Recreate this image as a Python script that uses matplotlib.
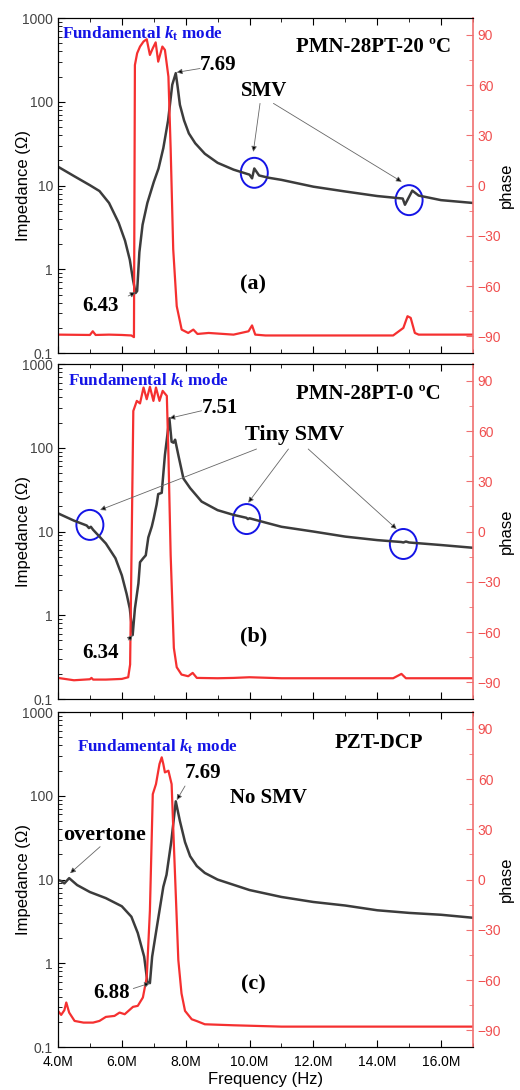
import numpy as np
import matplotlib
matplotlib.use('Agg')
import matplotlib.pyplot as plt
from matplotlib.patches import Ellipse
from matplotlib.transforms import ScaledTranslation
from matplotlib.ticker import MultipleLocator, LogLocator, FuncFormatter, NullFormatter

plt.rcParams['font.family'] = ['Liberation Sans', 'DejaVu Sans']
plt.rcParams['mathtext.fontset'] = 'custom'
plt.rcParams['mathtext.rm'] = 'Liberation Serif:bold'
plt.rcParams['mathtext.it'] = 'Liberation Serif:bold:italic'
plt.rcParams['mathtext.bf'] = 'Liberation Serif:bold'

# ---- data (frequency in MHz, impedance in ohm, phase in degrees) ----
# (a) PMN-28PT-20C
fa_imp = [4.0, 4.5, 5.0, 5.3, 5.6, 5.9, 6.1, 6.25, 6.35, 6.43, 6.48, 6.55, 6.65, 6.8, 7.0,
          7.15, 7.3, 7.45, 7.58, 7.69, 7.75, 7.82, 7.95, 8.1, 8.3, 8.6, 9.0, 9.5, 10.0, 10.08,
          10.15, 10.3, 10.6, 11.0, 12.0, 13.0, 14.0, 14.8, 14.87, 15.1, 15.3, 16.0, 17.0]
za_imp = [16.8, 13.0, 10.1, 8.6, 6.2, 3.6, 2.2, 1.3, 0.75, 0.52, 0.55, 1.6, 3.4, 6.2, 11.0,
          16, 28, 60, 160, 220, 150, 92, 60, 42, 32, 24, 18.7, 15.5, 13.5, 12.2,
          16.0, 13.2, 12.4, 11.7, 9.7, 8.5, 7.5, 7.0, 5.9, 8.7, 7.6, 6.7, 6.2]
fa_ph = [4.0, 5.0, 5.09, 5.18, 5.6, 6.0, 6.3, 6.38, 6.41, 6.48, 6.57, 6.68, 6.78, 6.88, 6.97,
         7.06, 7.14, 7.27, 7.35, 7.46, 7.53, 7.61, 7.72, 7.875, 8.08, 8.24, 8.37, 8.72, 9.5,
         9.97, 10.08, 10.18, 10.5, 12.0, 14.5, 14.82, 14.95, 15.05, 15.18, 15.3, 16.0, 17.0]
pa_ph = [-89, -89.2, -87, -89.2, -89, -89.2, -89.5, -90.5, 72, 79, 83, 86, 87.4, 78, 82,
         85.5, 74, 83, 81, 65, 22, -38, -72, -86, -88, -86, -88.6, -88, -89,
         -87, -83.5, -89, -89.5, -89.5, -89.5, -85, -78, -79, -88, -89, -89, -89]

# (b) PMN-28PT-0C
fb_imp = [4.0, 4.5, 4.9, 4.97, 5.03, 5.1, 5.5, 5.8, 6.0, 6.15, 6.25, 6.34, 6.41, 6.52, 6.57,
          6.67, 6.75, 6.83, 6.94, 7.0, 7.09, 7.14, 7.25, 7.35, 7.49, 7.56, 7.62, 7.67, 7.77,
          7.93, 8.14, 8.5, 9.0, 9.5, 9.9, 9.95, 10.0, 10.5, 11.0, 12.0, 13.0, 14.0, 14.75,
          14.82, 14.9, 15.0, 16.0, 17.0]
zb_imp = [16.5, 13.5, 11.8, 11.0, 11.4, 10.5, 7.2, 4.8, 3.0, 1.8, 1.2, 0.58, 1.2, 2.4, 4.3,
          4.8, 5.2, 8.5, 11.5, 14.4, 21, 28, 29, 82, 225, 118, 115, 125, 82,
          43, 33, 22.8, 18, 15.8, 14.6, 14.1, 14.4, 12.8, 11.4, 10, 8.7, 7.9, 7.5,
          7.4, 7.6, 7.4, 6.9, 6.4]
fb_ph = [4.0, 4.5, 5.0, 5.05, 5.1, 5.5, 6.0, 6.2, 6.26, 6.36, 6.47, 6.57, 6.68, 6.78, 6.88,
         6.99, 7.07, 7.18, 7.28, 7.41, 7.46, 7.53, 7.63, 7.72, 7.87, 8.08, 8.22, 8.35, 9.0,
         9.5, 10.0, 11.0, 14.5, 14.76, 14.9, 17.0]
pb_ph = [-87.4, -88.8, -88.2, -87.4, -88.4, -88.4, -88, -87, -79.4, 72, 78, 76.5, 86, 79, 86.4,
         78, 86, 78, 84, 81, 46, -14, -69.5, -81, -85.4, -86.4, -84.4, -87.4, -87.6,
         -87.4, -87, -87.6, -87.6, -85, -87.6, -87.6]

# (c) PZT-DCP
fc_imp = [4.0, 4.1, 4.2, 4.35, 4.6, 5.0, 5.5, 6.0, 6.3, 6.5, 6.7, 6.8, 6.88, 6.95, 7.1, 7.3,
          7.4, 7.55, 7.69, 7.82, 7.98, 8.14, 8.35, 8.6, 9.0, 10.0, 11.0, 12.0, 13.0, 14.0,
          15.0, 16.0, 17.0]
zc_imp = [9.9, 9.6, 9.0, 10.4, 8.6, 7.1, 6.0, 4.8, 3.6, 2.3, 1.2, 0.6, 0.58, 1.2, 2.75, 8.2,
          11.4, 28.6, 86, 50, 28, 19, 14.5, 12, 10, 7.5, 6.2, 5.4, 4.9, 4.3,
          4.0, 3.8, 3.5]
fc_ph = [4.0, 4.1, 4.2, 4.26, 4.35, 4.52, 4.8, 5.1, 5.3, 5.5, 5.77, 5.93, 6.09, 6.35, 6.5,
         6.66, 6.78, 6.88, 6.97, 7.07, 7.18, 7.25, 7.3, 7.35, 7.46, 7.56, 7.63, 7.77, 7.87,
         7.98, 8.19, 8.35, 8.6, 9.5, 11.0, 17.0]
pc_ph = [-78.4, -80.8, -78, -73.4, -79.4, -84.4, -85.4, -85.4, -84.4, -82, -81.4, -79.4, -80.4,
         -76, -75.4, -70.4, -58.5, -18.6, 51, 57, 69, 73, 69, 64, 65, 57, 21, -48, -68,
         -78.4, -83.4, -84.5, -86.4, -87, -87.8, -87.8]

imp_col = '#3c3c3c'
ph_col = '#f53030'
red_axis = '#f07070'
blue = '#1414e6'
serif = ['Liberation Serif', 'DejaVu Serif']

fig = plt.figure(figsize=(5.2, 10.9), dpi=100)
boxes = [[0.1115, 0.6761, 0.798, 0.3073],
         [0.1115, 0.3587, 0.798, 0.3073],
         [0.1115, 0.0394, 0.798, 0.3073]]


def make_panel(box, f_imp, z_imp, f_ph, p_ph, bottom):
    ax = fig.add_axes(box)
    ax.plot(f_imp, z_imp, color=imp_col, lw=1.8)
    ax.set_yscale('log')
    ax.set_ylim(0.1, 1000)
    ax.set_xlim(4, 17)
    ax.yaxis.set_major_locator(LogLocator(base=10, numticks=10))
    ax.yaxis.set_minor_locator(LogLocator(base=10, subs=np.arange(2, 10), numticks=10))
    ax.yaxis.set_major_formatter(FuncFormatter(lambda v, p: '%g' % v))
    ax.yaxis.set_minor_formatter(NullFormatter())
    ax.xaxis.set_major_locator(MultipleLocator(2))
    ax.xaxis.set_minor_locator(MultipleLocator(1))
    ax.xaxis.set_major_formatter(FuncFormatter(lambda v, p: '%.1fM' % v))
    ax.tick_params(which='both', direction='in', top=True, labelsize=10)
    ax.tick_params(which='major', length=5)
    ax.tick_params(which='minor', length=3)
    ax.tick_params(axis='x', pad=6)
    ax.tick_params(axis='y', labelcolor='#444444')
    ax.spines['right'].set_visible(False)
    ax.set_ylabel('Impedance (\u03a9)', fontsize=12)
    ax.yaxis.set_label_coords(-0.066, 0.5)
    if bottom:
        ax.set_xlabel('Frequency (Hz)', fontsize=12, labelpad=2)
    else:
        ax.tick_params(axis='x', labelbottom=False)

    ax2 = ax.twinx()
    ax2.plot(f_ph, p_ph, color=ph_col, lw=1.6)
    ax2.set_ylim(-100, 100)
    ax2.yaxis.set_minor_locator(MultipleLocator(15))
    ax2.set_yticks(np.arange(-90, 91, 30))
    ax2.tick_params(axis='y', which='both', direction='in', colors=red_axis, labelcolor='#f05050',
                    labelsize=10)
    ax2.tick_params(which='major', length=5)
    ax2.tick_params(which='minor', length=3)
    ax2.spines['right'].set_color(red_axis)
    ax2.spines['right'].set_linewidth(1.2)
    ax2.set_ylabel('phase', fontsize=12)
    ax2.yaxis.set_label_coords(1.063, 0.5)
    return ax, ax2


def label(ax, ax2, x, y, s, size=15, color='k', ha='center'):
    ax2.text(x, y, s, transform=ax.transData, fontsize=size, color=color, ha=ha, va='center',
             fontweight='bold', family=serif)


def arrow(ax, ax2, start, tip):
    ax2.annotate('', xy=tip, xytext=start, xycoords=ax.transData, textcoords=ax.transData,
                 arrowprops=dict(arrowstyle='-|>', fc='k', ec='#666666', lw=0.6,
                                 mutation_scale=8, shrinkA=0, shrinkB=0))


def circle(ax, x, y):
    e = Ellipse((0, 0), 0.27, 0.30, fill=False, ec=blue, lw=1.4,
                transform=fig.dpi_scale_trans + ScaledTranslation(x, y, ax.transData))
    ax.add_artist(e)


# (a)
ax, ax2 = make_panel(boxes[0], fa_imp, za_imp, fa_ph, pa_ph, False)
label(ax, ax2, 4.125, 644, 'Fundamental $k_\\mathrm{t}$ mode', size=12.3, color=blue, ha='left')
label(ax, ax2, 13.88, 451, 'PMN-28PT-20 \u00baC')
label(ax, ax2, 8.45, 275, '7.69', ha='left')
arrow(ax, ax2, (8.45, 250), (7.72, 225))
label(ax, ax2, 10.47, 134, 'SMV')
arrow(ax, ax2, (10.33, 95.8), (10.12, 25.3))
arrow(ax, ax2, (10.75, 95.8), (14.77, 11.1))
circle(ax, 10.15, 14.2)
circle(ax, 15.0, 6.7)
label(ax, ax2, 10.12, 0.667, '(a)', size=16)
label(ax, ax2, 5.33, 0.364, '6.43')
arrow(ax, ax2, (6.2, 0.48), (6.43, 0.53))

# (b)
ax, ax2 = make_panel(boxes[1], fb_imp, zb_imp, fb_ph, pb_ph, False)
label(ax, ax2, 4.31, 627, 'Fundamental $k_\\mathrm{t}$ mode', size=12.3, color=blue, ha='left')
label(ax, ax2, 13.73, 438, 'PMN-28PT-0 \u00baC')
label(ax, ax2, 8.51, 298, '7.51', ha='left')
arrow(ax, ax2, (8.5, 277), (7.49, 225))
label(ax, ax2, 11.42, 142, 'Tiny SMV', size=16)
arrow(ax, ax2, (10.22, 96.7), (5.32, 18.1))
arrow(ax, ax2, (11.22, 96.7), (9.96, 22.1))
arrow(ax, ax2, (11.84, 96.7), (14.61, 10.7))
circle(ax, 5.0, 12.0)
circle(ax, 9.91, 14.1)
circle(ax, 14.82, 7.1)
label(ax, ax2, 10.12, 0.565, '(b)', size=16)
label(ax, ax2, 5.33, 0.354, '6.34')
arrow(ax, ax2, (6.2, 0.506), (6.34, 0.58))

# (c)
ax, ax2 = make_panel(boxes[2], fc_imp, zc_imp, fc_ph, pc_ph, True)
label(ax, ax2, 4.6, 382, 'Fundamental $k_\\mathrm{t}$ mode', size=12.3, color=blue, ha='left')
label(ax, ax2, 14.04, 427, 'PZT-DCP')
label(ax, ax2, 7.98, 187, '7.69', ha='left')
arrow(ax, ax2, (7.98, 131), (7.72, 89))
label(ax, ax2, 9.39, 94, 'No SMV', ha='left')
label(ax, ax2, 4.16, 34, 'overtone', size=16, ha='left')
arrow(ax, ax2, (5.32, 24.7), (4.38, 11.9))
label(ax, ax2, 5.68, 0.44, '6.88')
arrow(ax, ax2, (6.36, 0.5), (6.88, 0.58))
label(ax, ax2, 10.12, 0.565, '(c)', size=16)

fig.savefig('out.png', dpi=100)
